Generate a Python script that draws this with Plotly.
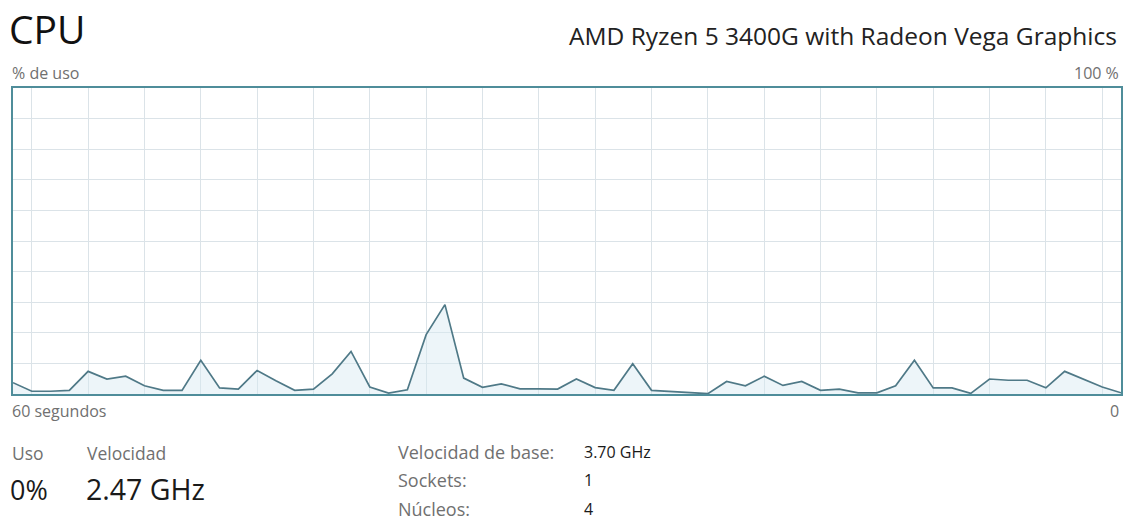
import plotly.graph_objects as go

# ---- data ----
seconds = list(range(60))
cpu_usage = [3.7, 0.9, 0.9, 1.2, 7.4, 4.9, 5.8, 2.7, 1.2, 1.2,
             11.0, 2.0, 1.6, 7.7, 4.3, 1.2, 1.6, 6.6, 13.9, 2.3,
             0.3, 1.4, 19.4, 29.2, 5.2, 2.2, 3.3, 1.7, 1.7, 1.6,
             4.9, 2.1, 1.2, 9.9, 1.2, 0.9, 0.5, 0.1, 4.1, 2.7,
             5.8, 2.8, 4.1, 1.2, 1.6, 0.4, 0.4, 2.7, 11.0, 2.0,
             2.0, 0.2, 4.9, 4.5, 4.5, 2.0, 7.4, 4.8, 2.3, 0.4]
grid_x = list(range(1, 60, 3))
title = "CPU"
cpu_name = "AMD Ryzen 5 3400G with Radeon Vega Graphics"
y_label = "% de uso"
y_max_label = "100 %"
x_left_label = "60 segundos"
x_right_label = "0"
stat_labels = ["Uso", "Velocidad"]
stat_values = ["0%", "2.47 GHz"]
info_labels = ["Velocidad de base:", "Sockets:", "Núcleos:"]
info_values = ["3.70 GHz", "1", "4"]

W, H = 1128, 522
L, R, T, B = 13, 1123, 88, 394
FONT = "Open Sans, Noto Sans, sans-serif"

def px(x):
    return (x - L) / (R - L)

def py(y):
    return (B - y) / (B - T)

fig = go.Figure()
fig.add_trace(go.Scatter(
    x=seconds, y=cpu_usage, mode="lines",
    line=dict(color="#4f7987", width=1.7),
    fill="tozeroy", fillcolor="rgba(214,232,242,0.45)",
    hoverinfo="skip", showlegend=False))

anns = []
def text(t, x, y, size, color, xanchor="left"):
    anns.append(dict(text=t, x=px(x), y=py(y), xref="paper", yref="paper",
                     xanchor=xanchor, yanchor="middle", showarrow=False,
                     font=dict(family=FONT, size=size, color=color)))

text(title, 7, 28, 39, "#111111")
text(cpu_name, 1121, 36, 24.5, "#222222", "right")
text(y_label, 10, 73, 16, "#707070")
text(y_max_label, 1123, 73, 16, "#707070", "right")
text(x_left_label, 10, 411, 16, "#707070")
text(x_right_label, 1123, 411, 16, "#707070", "right")
text(stat_labels[0], 10, 453, 17.5, "#707070")
text(stat_labels[1], 85, 453, 17.5, "#707070")
text(stat_values[0], 8, 489, 27, "#1a1a1a")
text(stat_values[1], 84, 489, 28.5, "#1a1a1a")
for i, (lab, val) in enumerate(zip(info_labels, info_values)):
    yy = 452 + i * 28.5
    text(lab, 397, yy, 18, "#707070")
    text(val, 583, yy, 16, "#1a1a1a")

fig.update_layout(
    width=W, height=H, autosize=False,
    margin=dict(l=L, r=W - R, t=T, b=H - B, pad=0),
    paper_bgcolor="white", plot_bgcolor="white",
    annotations=anns,
    xaxis=dict(range=[0, 59], tickvals=grid_x, showticklabels=False,
               showgrid=True, gridcolor="#dbe3e8", gridwidth=1, zeroline=False,
               showline=True, linecolor="#4f8d9a", linewidth=1.5, mirror=True,
               fixedrange=True),
    yaxis=dict(range=[0, 100], dtick=10, showticklabels=False,
               showgrid=True, gridcolor="#dbe3e8", gridwidth=1, zeroline=False,
               showline=True, linecolor="#4f8d9a", linewidth=1.5, mirror=True,
               fixedrange=True),
)

fig.write_html("out.html", config={"displayModeBar": False},
               post_script="document.body.style.margin='0';")
